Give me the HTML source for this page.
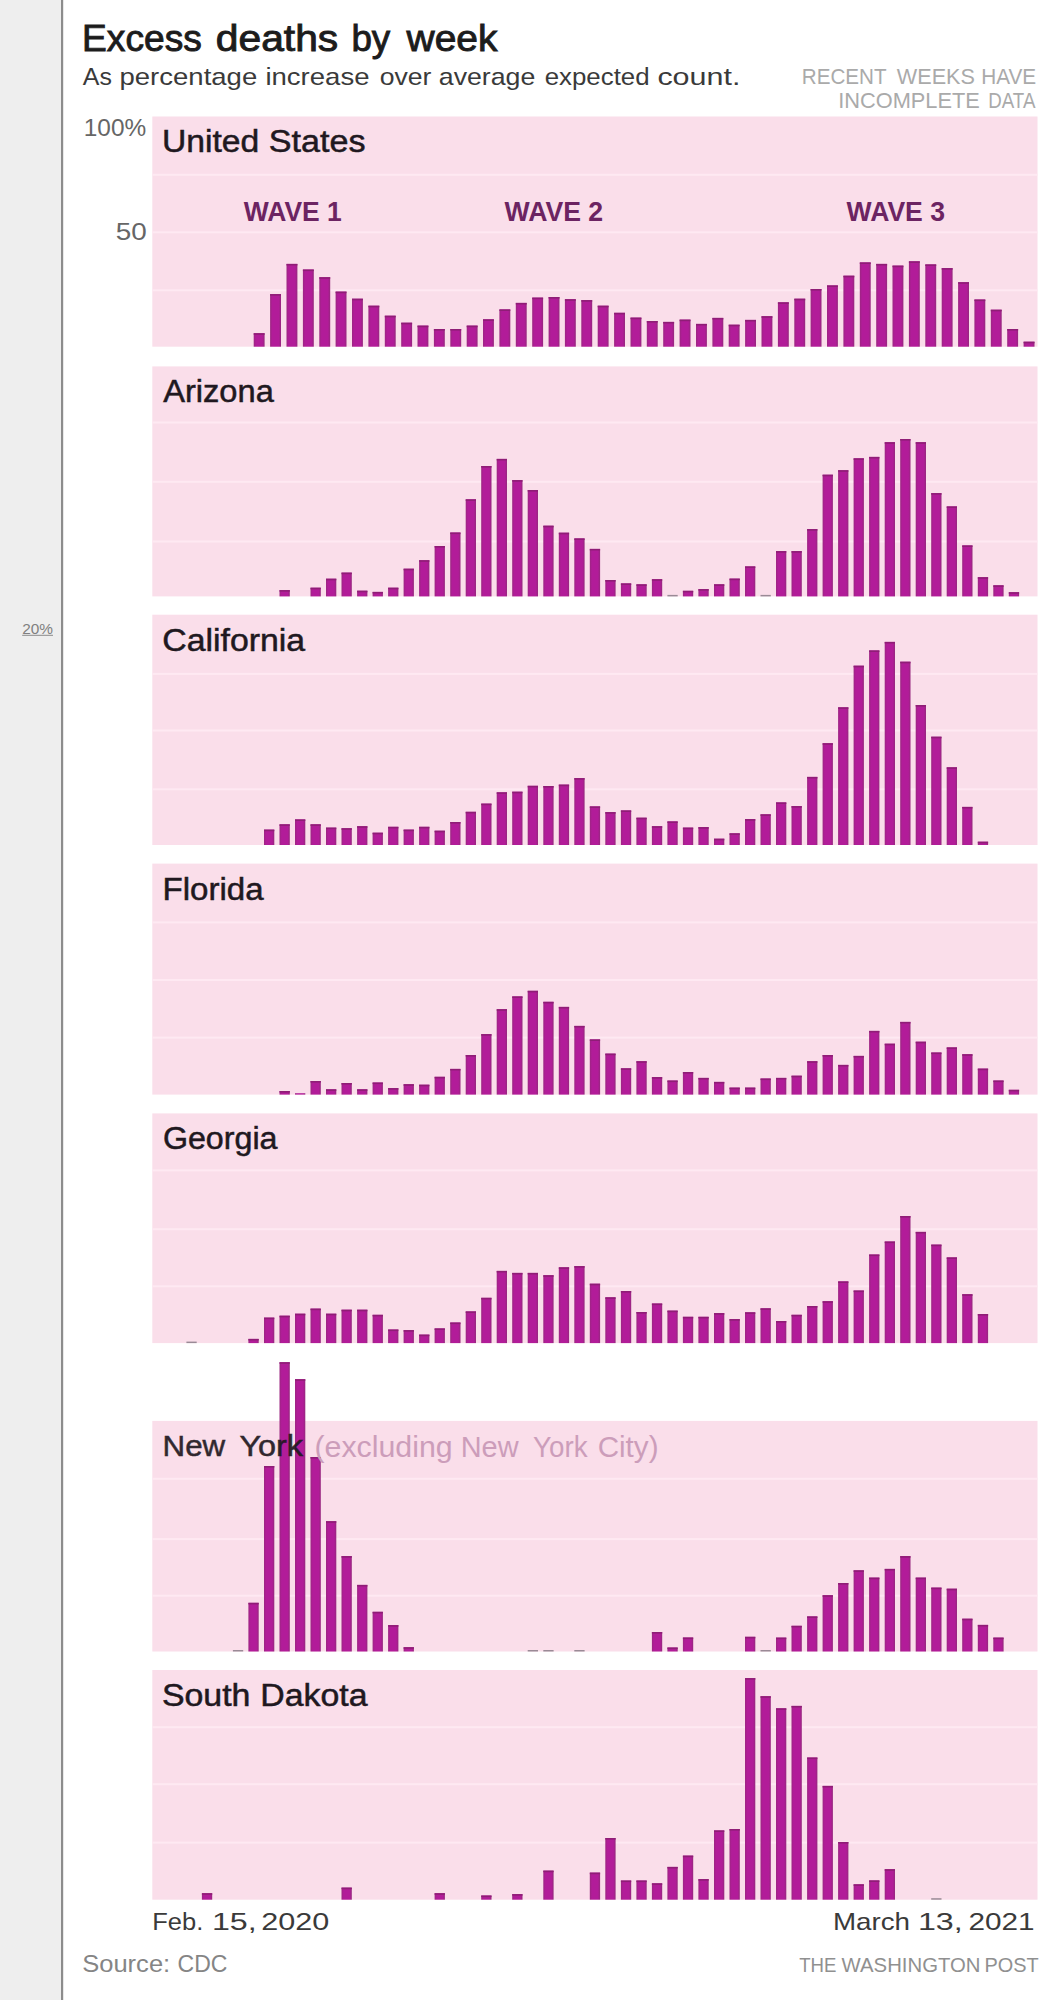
<!DOCTYPE html>
<html lang="en">
<head>
<meta charset="utf-8">
<title>Excess deaths by week</title>
<style>
html,body{margin:0;padding:0;background:#fff;}
body{width:1060px;height:2000px;overflow:hidden;}
svg{display:block;}
text{font-family:"Liberation Sans",Arial,sans-serif;}
</style>
</head>
<body>
<svg width="1060" height="2000" viewBox="0 0 1060 2000" font-family="'Liberation Sans', Arial, sans-serif">
<rect x="0" y="0" width="1060" height="2000" fill="#ffffff"/>
<rect x="0" y="0" width="61" height="2000" fill="#eeeeee"/>
<rect x="61" y="0" width="2.2" height="2000" fill="#8c8c8c"/>
<rect x="22.2" y="634.8" width="30.8" height="1" fill="#8a8a8a"/>
<g><rect x="152.3" y="116.5" width="885.2" height="230.2" fill="#fadeea"/><rect x="152.3" y="173.8" width="885.2" height="2" fill="#fee9f2"/><rect x="152.3" y="231.3" width="885.2" height="2" fill="#fee9f2"/><rect x="152.3" y="289.3" width="885.2" height="2" fill="#fee9f2"/><rect x="152.3" y="366.4" width="885.2" height="230" fill="#fadeea"/><rect x="152.3" y="421.5" width="885.2" height="2" fill="#fee9f2"/><rect x="152.3" y="480.8" width="885.2" height="2" fill="#fee9f2"/><rect x="152.3" y="540.5" width="885.2" height="2" fill="#fee9f2"/><rect x="152.3" y="614.7" width="885.2" height="230.3" fill="#fadeea"/><rect x="152.3" y="672.9" width="885.2" height="2" fill="#fee9f2"/><rect x="152.3" y="729.5" width="885.2" height="2" fill="#fee9f2"/><rect x="152.3" y="788.3" width="885.2" height="2" fill="#fee9f2"/><rect x="152.3" y="863.6" width="885.2" height="231" fill="#fadeea"/><rect x="152.3" y="921.4" width="885.2" height="2" fill="#fee9f2"/><rect x="152.3" y="979" width="885.2" height="2" fill="#fee9f2"/><rect x="152.3" y="1036.6" width="885.2" height="2" fill="#fee9f2"/><rect x="152.3" y="1113.4" width="885.2" height="229.7" fill="#fadeea"/><rect x="152.3" y="1169.4" width="885.2" height="2" fill="#fee9f2"/><rect x="152.3" y="1228.2" width="885.2" height="2" fill="#fee9f2"/><rect x="152.3" y="1285.3" width="885.2" height="2" fill="#fee9f2"/><rect x="152.3" y="1420.9" width="885.2" height="230.6" fill="#fadeea"/><rect x="152.3" y="1477.8" width="885.2" height="2" fill="#fee9f2"/><rect x="152.3" y="1538.1" width="885.2" height="2" fill="#fee9f2"/><rect x="152.3" y="1594.7" width="885.2" height="2" fill="#fee9f2"/><rect x="152.3" y="1670" width="885.2" height="229.7" fill="#fadeea"/><rect x="152.3" y="1726.2" width="885.2" height="2" fill="#fee9f2"/><rect x="152.3" y="1783.2" width="885.2" height="2" fill="#fee9f2"/><rect x="152.3" y="1841.6" width="885.2" height="2" fill="#fee9f2"/></g>
<g><text x="161.9" y="152.2" font-size="31" fill="#201820" stroke="#201820" stroke-width="0.5" textLength="97.3" lengthAdjust="spacingAndGlyphs">United</text><text x="268.8" y="152.2" font-size="31" fill="#201820" stroke="#201820" stroke-width="0.5" textLength="96.7" lengthAdjust="spacingAndGlyphs">States</text><text x="163.2" y="402.2" font-size="31" fill="#201820" stroke="#201820" stroke-width="0.5" textLength="110.6" lengthAdjust="spacingAndGlyphs">Arizona</text><text x="162.3" y="650.8" font-size="31" fill="#201820" stroke="#201820" stroke-width="0.5" textLength="142.8" lengthAdjust="spacingAndGlyphs">California</text><text x="162.5" y="899.7" font-size="31" fill="#201820" stroke="#201820" stroke-width="0.5" textLength="101.1" lengthAdjust="spacingAndGlyphs">Florida</text><text x="162.9" y="1148.5" font-size="31" fill="#201820" stroke="#201820" stroke-width="0.5" textLength="114.6" lengthAdjust="spacingAndGlyphs">Georgia</text><text x="161.9" y="1705.5" font-size="31" fill="#201820" stroke="#201820" stroke-width="0.5" textLength="88.5" lengthAdjust="spacingAndGlyphs">South</text><text x="260.3" y="1705.5" font-size="31" fill="#201820" stroke="#201820" stroke-width="0.5" textLength="107.2" lengthAdjust="spacingAndGlyphs">Dakota</text><text x="243.8" y="220.6" font-size="26.8" fill="#6c2462" font-weight="bold" textLength="98" lengthAdjust="spacingAndGlyphs">WAVE 1</text><text x="504.5" y="220.6" font-size="26.8" fill="#6c2462" font-weight="bold" textLength="98.7" lengthAdjust="spacingAndGlyphs">WAVE 2</text><text x="846.6" y="220.6" font-size="26.8" fill="#6c2462" font-weight="bold" textLength="98.4" lengthAdjust="spacingAndGlyphs">WAVE 3</text></g>
<defs><linearGradient id="bg" x1="0" y1="0" x2="1" y2="0"><stop offset="0" stop-color="#9c2682"/><stop offset="0.22" stop-color="#b21c99"/><stop offset="0.78" stop-color="#b21c99"/><stop offset="1" stop-color="#96287e"/></linearGradient></defs>
<g fill="url(#bg)"><rect x="253.7" y="333.2" width="10.9" height="13.5"/><rect x="253.7" y="333.2" width="10.9" height="1.6" fill="#8f1d76"/><rect x="270.1" y="294.1" width="10.9" height="52.6"/><rect x="270.1" y="294.1" width="10.9" height="1.6" fill="#8f1d76"/><rect x="286.5" y="263.9" width="10.9" height="82.8"/><rect x="286.5" y="263.9" width="10.9" height="1.6" fill="#8f1d76"/><rect x="302.9" y="269.5" width="10.9" height="77.2"/><rect x="302.9" y="269.5" width="10.9" height="1.6" fill="#8f1d76"/><rect x="319.3" y="277.2" width="10.9" height="69.5"/><rect x="319.3" y="277.2" width="10.9" height="1.6" fill="#8f1d76"/><rect x="335.6" y="291.6" width="10.9" height="55.1"/><rect x="335.6" y="291.6" width="10.9" height="1.6" fill="#8f1d76"/><rect x="352" y="298.7" width="10.9" height="48"/><rect x="352" y="298.7" width="10.9" height="1.6" fill="#8f1d76"/><rect x="368.4" y="305.7" width="10.9" height="41"/><rect x="368.4" y="305.7" width="10.9" height="1.6" fill="#8f1d76"/><rect x="384.8" y="315.7" width="10.9" height="31"/><rect x="384.8" y="315.7" width="10.9" height="1.6" fill="#8f1d76"/><rect x="401.2" y="322.7" width="10.9" height="24"/><rect x="401.2" y="322.7" width="10.9" height="1.6" fill="#8f1d76"/><rect x="417.5" y="325.6" width="10.9" height="21.1"/><rect x="417.5" y="325.6" width="10.9" height="1.6" fill="#8f1d76"/><rect x="433.9" y="329" width="10.9" height="17.7"/><rect x="433.9" y="329" width="10.9" height="1.6" fill="#8f1d76"/><rect x="450.3" y="329" width="10.9" height="17.7"/><rect x="450.3" y="329" width="10.9" height="1.6" fill="#8f1d76"/><rect x="466.7" y="325.6" width="10.9" height="21.1"/><rect x="466.7" y="325.6" width="10.9" height="1.6" fill="#8f1d76"/><rect x="483" y="319.3" width="10.9" height="27.4"/><rect x="483" y="319.3" width="10.9" height="1.6" fill="#8f1d76"/><rect x="499.4" y="309.4" width="10.9" height="37.3"/><rect x="499.4" y="309.4" width="10.9" height="1.6" fill="#8f1d76"/><rect x="515.8" y="302.9" width="10.9" height="43.8"/><rect x="515.8" y="302.9" width="10.9" height="1.6" fill="#8f1d76"/><rect x="532.2" y="297.6" width="10.9" height="49.1"/><rect x="532.2" y="297.6" width="10.9" height="1.6" fill="#8f1d76"/><rect x="548.6" y="297" width="10.9" height="49.7"/><rect x="548.6" y="297" width="10.9" height="1.6" fill="#8f1d76"/><rect x="564.9" y="299.2" width="10.9" height="47.5"/><rect x="564.9" y="299.2" width="10.9" height="1.6" fill="#8f1d76"/><rect x="581.3" y="300.1" width="10.9" height="46.6"/><rect x="581.3" y="300.1" width="10.9" height="1.6" fill="#8f1d76"/><rect x="597.7" y="305.7" width="10.9" height="41"/><rect x="597.7" y="305.7" width="10.9" height="1.6" fill="#8f1d76"/><rect x="614.1" y="312.8" width="10.9" height="33.9"/><rect x="614.1" y="312.8" width="10.9" height="1.6" fill="#8f1d76"/><rect x="630.5" y="317.6" width="10.9" height="29.1"/><rect x="630.5" y="317.6" width="10.9" height="1.6" fill="#8f1d76"/><rect x="646.8" y="321" width="10.9" height="25.7"/><rect x="646.8" y="321" width="10.9" height="1.6" fill="#8f1d76"/><rect x="663.2" y="321.9" width="10.9" height="24.8"/><rect x="663.2" y="321.9" width="10.9" height="1.6" fill="#8f1d76"/><rect x="679.6" y="319.6" width="10.9" height="27.1"/><rect x="679.6" y="319.6" width="10.9" height="1.6" fill="#8f1d76"/><rect x="696" y="323.9" width="10.9" height="22.8"/><rect x="696" y="323.9" width="10.9" height="1.6" fill="#8f1d76"/><rect x="712.4" y="317.9" width="10.9" height="28.8"/><rect x="712.4" y="317.9" width="10.9" height="1.6" fill="#8f1d76"/><rect x="728.7" y="324.7" width="10.9" height="22"/><rect x="728.7" y="324.7" width="10.9" height="1.6" fill="#8f1d76"/><rect x="745.1" y="319.9" width="10.9" height="26.8"/><rect x="745.1" y="319.9" width="10.9" height="1.6" fill="#8f1d76"/><rect x="761.5" y="316.2" width="10.9" height="30.5"/><rect x="761.5" y="316.2" width="10.9" height="1.6" fill="#8f1d76"/><rect x="777.9" y="302.3" width="10.9" height="44.4"/><rect x="777.9" y="302.3" width="10.9" height="1.6" fill="#8f1d76"/><rect x="794.3" y="298.7" width="10.9" height="48"/><rect x="794.3" y="298.7" width="10.9" height="1.6" fill="#8f1d76"/><rect x="810.6" y="289" width="10.9" height="57.7"/><rect x="810.6" y="289" width="10.9" height="1.6" fill="#8f1d76"/><rect x="827" y="285.4" width="10.9" height="61.3"/><rect x="827" y="285.4" width="10.9" height="1.6" fill="#8f1d76"/><rect x="843.4" y="275.7" width="10.9" height="71"/><rect x="843.4" y="275.7" width="10.9" height="1.6" fill="#8f1d76"/><rect x="859.8" y="262.4" width="10.9" height="84.3"/><rect x="859.8" y="262.4" width="10.9" height="1.6" fill="#8f1d76"/><rect x="876.2" y="263.9" width="10.9" height="82.8"/><rect x="876.2" y="263.9" width="10.9" height="1.6" fill="#8f1d76"/><rect x="892.5" y="265.6" width="10.9" height="81.1"/><rect x="892.5" y="265.6" width="10.9" height="1.6" fill="#8f1d76"/><rect x="908.9" y="261.3" width="10.9" height="85.4"/><rect x="908.9" y="261.3" width="10.9" height="1.6" fill="#8f1d76"/><rect x="925.3" y="264.4" width="10.9" height="82.3"/><rect x="925.3" y="264.4" width="10.9" height="1.6" fill="#8f1d76"/><rect x="941.7" y="268.1" width="10.9" height="78.6"/><rect x="941.7" y="268.1" width="10.9" height="1.6" fill="#8f1d76"/><rect x="958.1" y="282.2" width="10.9" height="64.5"/><rect x="958.1" y="282.2" width="10.9" height="1.6" fill="#8f1d76"/><rect x="974.4" y="299.5" width="10.9" height="47.2"/><rect x="974.4" y="299.5" width="10.9" height="1.6" fill="#8f1d76"/><rect x="990.8" y="309.7" width="10.9" height="37"/><rect x="990.8" y="309.7" width="10.9" height="1.6" fill="#8f1d76"/><rect x="1007.2" y="329" width="10.9" height="17.7"/><rect x="1007.2" y="329" width="10.9" height="1.6" fill="#8f1d76"/><rect x="1023.6" y="341.7" width="10.9" height="5"/><rect x="1023.6" y="341.7" width="10.9" height="1.6" fill="#8f1d76"/><rect x="279.5" y="590.1" width="10.3" height="6.3"/><rect x="279.5" y="590.1" width="10.3" height="1.6" fill="#8f1d76"/><rect x="310.5" y="587.7" width="10.3" height="8.7"/><rect x="310.5" y="587.7" width="10.3" height="1.6" fill="#8f1d76"/><rect x="326" y="578.7" width="10.3" height="17.7"/><rect x="326" y="578.7" width="10.3" height="1.6" fill="#8f1d76"/><rect x="341.5" y="572.6" width="10.3" height="23.8"/><rect x="341.5" y="572.6" width="10.3" height="1.6" fill="#8f1d76"/><rect x="357.1" y="590.7" width="10.3" height="5.7"/><rect x="357.1" y="590.7" width="10.3" height="1.6" fill="#8f1d76"/><rect x="372.6" y="591.9" width="10.3" height="4.5"/><rect x="372.6" y="591.9" width="10.3" height="1.6" fill="#8f1d76"/><rect x="388.1" y="587.7" width="10.3" height="8.7"/><rect x="388.1" y="587.7" width="10.3" height="1.6" fill="#8f1d76"/><rect x="403.6" y="568.7" width="10.3" height="27.7"/><rect x="403.6" y="568.7" width="10.3" height="1.6" fill="#8f1d76"/><rect x="419.1" y="560.2" width="10.3" height="36.2"/><rect x="419.1" y="560.2" width="10.3" height="1.6" fill="#8f1d76"/><rect x="434.6" y="546" width="10.3" height="50.4"/><rect x="434.6" y="546" width="10.3" height="1.6" fill="#8f1d76"/><rect x="450.2" y="532.5" width="10.3" height="63.9"/><rect x="450.2" y="532.5" width="10.3" height="1.6" fill="#8f1d76"/><rect x="465.7" y="499.3" width="10.3" height="97.1"/><rect x="465.7" y="499.3" width="10.3" height="1.6" fill="#8f1d76"/><rect x="481.2" y="466" width="10.3" height="130.4"/><rect x="481.2" y="466" width="10.3" height="1.6" fill="#8f1d76"/><rect x="496.7" y="458.9" width="10.3" height="137.5"/><rect x="496.7" y="458.9" width="10.3" height="1.6" fill="#8f1d76"/><rect x="512.2" y="480.1" width="10.3" height="116.3"/><rect x="512.2" y="480.1" width="10.3" height="1.6" fill="#8f1d76"/><rect x="527.7" y="490" width="10.3" height="106.4"/><rect x="527.7" y="490" width="10.3" height="1.6" fill="#8f1d76"/><rect x="543.3" y="525.7" width="10.3" height="70.7"/><rect x="543.3" y="525.7" width="10.3" height="1.6" fill="#8f1d76"/><rect x="558.8" y="532.7" width="10.3" height="63.7"/><rect x="558.8" y="532.7" width="10.3" height="1.6" fill="#8f1d76"/><rect x="574.3" y="538.4" width="10.3" height="58"/><rect x="574.3" y="538.4" width="10.3" height="1.6" fill="#8f1d76"/><rect x="589.8" y="548.9" width="10.3" height="47.5"/><rect x="589.8" y="548.9" width="10.3" height="1.6" fill="#8f1d76"/><rect x="605.3" y="580" width="10.3" height="16.4"/><rect x="605.3" y="580" width="10.3" height="1.6" fill="#8f1d76"/><rect x="620.9" y="583.4" width="10.3" height="13"/><rect x="620.9" y="583.4" width="10.3" height="1.6" fill="#8f1d76"/><rect x="636.4" y="584.3" width="10.3" height="12.1"/><rect x="636.4" y="584.3" width="10.3" height="1.6" fill="#8f1d76"/><rect x="651.9" y="579.2" width="10.3" height="17.2"/><rect x="651.9" y="579.2" width="10.3" height="1.6" fill="#8f1d76"/><rect x="667.4" y="594.9" width="10.3" height="1.5" fill="#9a8a96"/><rect x="682.9" y="590.8" width="10.3" height="5.6"/><rect x="682.9" y="590.8" width="10.3" height="1.6" fill="#8f1d76"/><rect x="698.4" y="589.1" width="10.3" height="7.3"/><rect x="698.4" y="589.1" width="10.3" height="1.6" fill="#8f1d76"/><rect x="714" y="584.3" width="10.3" height="12.1"/><rect x="714" y="584.3" width="10.3" height="1.6" fill="#8f1d76"/><rect x="729.5" y="578.6" width="10.3" height="17.8"/><rect x="729.5" y="578.6" width="10.3" height="1.6" fill="#8f1d76"/><rect x="745" y="566.4" width="10.3" height="30"/><rect x="745" y="566.4" width="10.3" height="1.6" fill="#8f1d76"/><rect x="760.5" y="594.9" width="10.3" height="1.5" fill="#9a8a96"/><rect x="776" y="551.1" width="10.3" height="45.3"/><rect x="776" y="551.1" width="10.3" height="1.6" fill="#8f1d76"/><rect x="791.5" y="551.1" width="10.3" height="45.3"/><rect x="791.5" y="551.1" width="10.3" height="1.6" fill="#8f1d76"/><rect x="807.1" y="529.1" width="10.3" height="67.3"/><rect x="807.1" y="529.1" width="10.3" height="1.6" fill="#8f1d76"/><rect x="822.6" y="474.7" width="10.3" height="121.7"/><rect x="822.6" y="474.7" width="10.3" height="1.6" fill="#8f1d76"/><rect x="838.1" y="470.2" width="10.3" height="126.2"/><rect x="838.1" y="470.2" width="10.3" height="1.6" fill="#8f1d76"/><rect x="853.6" y="458.3" width="10.3" height="138.1"/><rect x="853.6" y="458.3" width="10.3" height="1.6" fill="#8f1d76"/><rect x="869.1" y="456.9" width="10.3" height="139.5"/><rect x="869.1" y="456.9" width="10.3" height="1.6" fill="#8f1d76"/><rect x="884.7" y="442.2" width="10.3" height="154.2"/><rect x="884.7" y="442.2" width="10.3" height="1.6" fill="#8f1d76"/><rect x="900.2" y="439" width="10.3" height="157.4"/><rect x="900.2" y="439" width="10.3" height="1.6" fill="#8f1d76"/><rect x="915.7" y="442.2" width="10.3" height="154.2"/><rect x="915.7" y="442.2" width="10.3" height="1.6" fill="#8f1d76"/><rect x="931.2" y="493.1" width="10.3" height="103.3"/><rect x="931.2" y="493.1" width="10.3" height="1.6" fill="#8f1d76"/><rect x="946.7" y="506.4" width="10.3" height="90"/><rect x="946.7" y="506.4" width="10.3" height="1.6" fill="#8f1d76"/><rect x="962.2" y="545.4" width="10.3" height="51"/><rect x="962.2" y="545.4" width="10.3" height="1.6" fill="#8f1d76"/><rect x="977.8" y="577.2" width="10.3" height="19.2"/><rect x="977.8" y="577.2" width="10.3" height="1.6" fill="#8f1d76"/><rect x="993.3" y="585.3" width="10.3" height="11.1"/><rect x="993.3" y="585.3" width="10.3" height="1.6" fill="#8f1d76"/><rect x="1008.8" y="592.2" width="10.3" height="4.2"/><rect x="1008.8" y="592.2" width="10.3" height="1.6" fill="#8f1d76"/><rect x="264" y="829.6" width="10.3" height="15.4"/><rect x="264" y="829.6" width="10.3" height="1.6" fill="#8f1d76"/><rect x="279.5" y="824.3" width="10.3" height="20.7"/><rect x="279.5" y="824.3" width="10.3" height="1.6" fill="#8f1d76"/><rect x="295" y="819.4" width="10.3" height="25.6"/><rect x="295" y="819.4" width="10.3" height="1.6" fill="#8f1d76"/><rect x="310.5" y="824.3" width="10.3" height="20.7"/><rect x="310.5" y="824.3" width="10.3" height="1.6" fill="#8f1d76"/><rect x="326" y="827.6" width="10.3" height="17.4"/><rect x="326" y="827.6" width="10.3" height="1.6" fill="#8f1d76"/><rect x="341.5" y="828.2" width="10.3" height="16.8"/><rect x="341.5" y="828.2" width="10.3" height="1.6" fill="#8f1d76"/><rect x="357.1" y="826.2" width="10.3" height="18.8"/><rect x="357.1" y="826.2" width="10.3" height="1.6" fill="#8f1d76"/><rect x="372.6" y="832.7" width="10.3" height="12.3"/><rect x="372.6" y="832.7" width="10.3" height="1.6" fill="#8f1d76"/><rect x="388.1" y="826.8" width="10.3" height="18.2"/><rect x="388.1" y="826.8" width="10.3" height="1.6" fill="#8f1d76"/><rect x="403.6" y="829.6" width="10.3" height="15.4"/><rect x="403.6" y="829.6" width="10.3" height="1.6" fill="#8f1d76"/><rect x="419.1" y="826.8" width="10.3" height="18.2"/><rect x="419.1" y="826.8" width="10.3" height="1.6" fill="#8f1d76"/><rect x="434.6" y="830.7" width="10.3" height="14.3"/><rect x="434.6" y="830.7" width="10.3" height="1.6" fill="#8f1d76"/><rect x="450.2" y="822" width="10.3" height="23"/><rect x="450.2" y="822" width="10.3" height="1.6" fill="#8f1d76"/><rect x="465.7" y="811.8" width="10.3" height="33.2"/><rect x="465.7" y="811.8" width="10.3" height="1.6" fill="#8f1d76"/><rect x="481.2" y="803.6" width="10.3" height="41.4"/><rect x="481.2" y="803.6" width="10.3" height="1.6" fill="#8f1d76"/><rect x="496.7" y="792.3" width="10.3" height="52.7"/><rect x="496.7" y="792.3" width="10.3" height="1.6" fill="#8f1d76"/><rect x="512.2" y="791.7" width="10.3" height="53.3"/><rect x="512.2" y="791.7" width="10.3" height="1.6" fill="#8f1d76"/><rect x="527.7" y="785.8" width="10.3" height="59.2"/><rect x="527.7" y="785.8" width="10.3" height="1.6" fill="#8f1d76"/><rect x="543.3" y="786" width="10.3" height="59"/><rect x="543.3" y="786" width="10.3" height="1.6" fill="#8f1d76"/><rect x="558.8" y="784.6" width="10.3" height="60.4"/><rect x="558.8" y="784.6" width="10.3" height="1.6" fill="#8f1d76"/><rect x="574.3" y="778.1" width="10.3" height="66.9"/><rect x="574.3" y="778.1" width="10.3" height="1.6" fill="#8f1d76"/><rect x="589.8" y="806.4" width="10.3" height="38.6"/><rect x="589.8" y="806.4" width="10.3" height="1.6" fill="#8f1d76"/><rect x="605.3" y="812.1" width="10.3" height="32.9"/><rect x="605.3" y="812.1" width="10.3" height="1.6" fill="#8f1d76"/><rect x="620.9" y="810.4" width="10.3" height="34.6"/><rect x="620.9" y="810.4" width="10.3" height="1.6" fill="#8f1d76"/><rect x="636.4" y="817.7" width="10.3" height="27.3"/><rect x="636.4" y="817.7" width="10.3" height="1.6" fill="#8f1d76"/><rect x="651.9" y="826.2" width="10.3" height="18.8"/><rect x="651.9" y="826.2" width="10.3" height="1.6" fill="#8f1d76"/><rect x="667.4" y="821.4" width="10.3" height="23.6"/><rect x="667.4" y="821.4" width="10.3" height="1.6" fill="#8f1d76"/><rect x="682.9" y="827.6" width="10.3" height="17.4"/><rect x="682.9" y="827.6" width="10.3" height="1.6" fill="#8f1d76"/><rect x="698.4" y="827.1" width="10.3" height="17.9"/><rect x="698.4" y="827.1" width="10.3" height="1.6" fill="#8f1d76"/><rect x="714" y="838.7" width="10.3" height="6.3"/><rect x="714" y="838.7" width="10.3" height="1.6" fill="#8f1d76"/><rect x="729.5" y="833.3" width="10.3" height="11.7"/><rect x="729.5" y="833.3" width="10.3" height="1.6" fill="#8f1d76"/><rect x="745" y="819.1" width="10.3" height="25.9"/><rect x="745" y="819.1" width="10.3" height="1.6" fill="#8f1d76"/><rect x="760.5" y="814.3" width="10.3" height="30.7"/><rect x="760.5" y="814.3" width="10.3" height="1.6" fill="#8f1d76"/><rect x="776" y="802.4" width="10.3" height="42.6"/><rect x="776" y="802.4" width="10.3" height="1.6" fill="#8f1d76"/><rect x="791.5" y="806.1" width="10.3" height="38.9"/><rect x="791.5" y="806.1" width="10.3" height="1.6" fill="#8f1d76"/><rect x="807.1" y="776.9" width="10.3" height="68.1"/><rect x="807.1" y="776.9" width="10.3" height="1.6" fill="#8f1d76"/><rect x="822.6" y="743.2" width="10.3" height="101.8"/><rect x="822.6" y="743.2" width="10.3" height="1.6" fill="#8f1d76"/><rect x="838.1" y="707.3" width="10.3" height="137.7"/><rect x="838.1" y="707.3" width="10.3" height="1.6" fill="#8f1d76"/><rect x="853.6" y="665.7" width="10.3" height="179.3"/><rect x="853.6" y="665.7" width="10.3" height="1.6" fill="#8f1d76"/><rect x="869.1" y="650.4" width="10.3" height="194.6"/><rect x="869.1" y="650.4" width="10.3" height="1.6" fill="#8f1d76"/><rect x="884.7" y="641.9" width="10.3" height="203.1"/><rect x="884.7" y="641.9" width="10.3" height="1.6" fill="#8f1d76"/><rect x="900.2" y="661.7" width="10.3" height="183.3"/><rect x="900.2" y="661.7" width="10.3" height="1.6" fill="#8f1d76"/><rect x="915.7" y="705" width="10.3" height="140"/><rect x="915.7" y="705" width="10.3" height="1.6" fill="#8f1d76"/><rect x="931.2" y="736.7" width="10.3" height="108.3"/><rect x="931.2" y="736.7" width="10.3" height="1.6" fill="#8f1d76"/><rect x="946.7" y="767.3" width="10.3" height="77.7"/><rect x="946.7" y="767.3" width="10.3" height="1.6" fill="#8f1d76"/><rect x="962.2" y="806.9" width="10.3" height="38.1"/><rect x="962.2" y="806.9" width="10.3" height="1.6" fill="#8f1d76"/><rect x="977.8" y="841.7" width="10.3" height="3.3"/><rect x="977.8" y="841.7" width="10.3" height="1.6" fill="#8f1d76"/><rect x="279.5" y="1091" width="10.3" height="3.6"/><rect x="279.5" y="1091" width="10.3" height="1.6" fill="#8f1d76"/><rect x="295" y="1093.2" width="10.3" height="1.4"/><rect x="310.5" y="1081" width="10.3" height="13.6"/><rect x="310.5" y="1081" width="10.3" height="1.6" fill="#8f1d76"/><rect x="326" y="1089.3" width="10.3" height="5.3"/><rect x="326" y="1089.3" width="10.3" height="1.6" fill="#8f1d76"/><rect x="341.5" y="1083" width="10.3" height="11.6"/><rect x="341.5" y="1083" width="10.3" height="1.6" fill="#8f1d76"/><rect x="357.1" y="1089.3" width="10.3" height="5.3"/><rect x="357.1" y="1089.3" width="10.3" height="1.6" fill="#8f1d76"/><rect x="372.6" y="1082.5" width="10.3" height="12.1"/><rect x="372.6" y="1082.5" width="10.3" height="1.6" fill="#8f1d76"/><rect x="388.1" y="1088.1" width="10.3" height="6.5"/><rect x="388.1" y="1088.1" width="10.3" height="1.6" fill="#8f1d76"/><rect x="403.6" y="1084.2" width="10.3" height="10.4"/><rect x="403.6" y="1084.2" width="10.3" height="1.6" fill="#8f1d76"/><rect x="419.1" y="1084.7" width="10.3" height="9.9"/><rect x="419.1" y="1084.7" width="10.3" height="1.6" fill="#8f1d76"/><rect x="434.6" y="1076.8" width="10.3" height="17.8"/><rect x="434.6" y="1076.8" width="10.3" height="1.6" fill="#8f1d76"/><rect x="450.2" y="1068.9" width="10.3" height="25.7"/><rect x="450.2" y="1068.9" width="10.3" height="1.6" fill="#8f1d76"/><rect x="465.7" y="1055" width="10.3" height="39.6"/><rect x="465.7" y="1055" width="10.3" height="1.6" fill="#8f1d76"/><rect x="481.2" y="1034.1" width="10.3" height="60.5"/><rect x="481.2" y="1034.1" width="10.3" height="1.6" fill="#8f1d76"/><rect x="496.7" y="1009.2" width="10.3" height="85.4"/><rect x="496.7" y="1009.2" width="10.3" height="1.6" fill="#8f1d76"/><rect x="512.2" y="996.4" width="10.3" height="98.2"/><rect x="512.2" y="996.4" width="10.3" height="1.6" fill="#8f1d76"/><rect x="527.7" y="990.8" width="10.3" height="103.8"/><rect x="527.7" y="990.8" width="10.3" height="1.6" fill="#8f1d76"/><rect x="543.3" y="1001.8" width="10.3" height="92.8"/><rect x="543.3" y="1001.8" width="10.3" height="1.6" fill="#8f1d76"/><rect x="558.8" y="1006.9" width="10.3" height="87.7"/><rect x="558.8" y="1006.9" width="10.3" height="1.6" fill="#8f1d76"/><rect x="574.3" y="1025.9" width="10.3" height="68.7"/><rect x="574.3" y="1025.9" width="10.3" height="1.6" fill="#8f1d76"/><rect x="589.8" y="1039.4" width="10.3" height="55.2"/><rect x="589.8" y="1039.4" width="10.3" height="1.6" fill="#8f1d76"/><rect x="605.3" y="1053.6" width="10.3" height="41"/><rect x="605.3" y="1053.6" width="10.3" height="1.6" fill="#8f1d76"/><rect x="620.9" y="1068.3" width="10.3" height="26.3"/><rect x="620.9" y="1068.3" width="10.3" height="1.6" fill="#8f1d76"/><rect x="636.4" y="1061.2" width="10.3" height="33.4"/><rect x="636.4" y="1061.2" width="10.3" height="1.6" fill="#8f1d76"/><rect x="651.9" y="1077.1" width="10.3" height="17.5"/><rect x="651.9" y="1077.1" width="10.3" height="1.6" fill="#8f1d76"/><rect x="667.4" y="1080.5" width="10.3" height="14.1"/><rect x="667.4" y="1080.5" width="10.3" height="1.6" fill="#8f1d76"/><rect x="682.9" y="1072" width="10.3" height="22.6"/><rect x="682.9" y="1072" width="10.3" height="1.6" fill="#8f1d76"/><rect x="698.4" y="1077.9" width="10.3" height="16.7"/><rect x="698.4" y="1077.9" width="10.3" height="1.6" fill="#8f1d76"/><rect x="714" y="1081.9" width="10.3" height="12.7"/><rect x="714" y="1081.9" width="10.3" height="1.6" fill="#8f1d76"/><rect x="729.5" y="1087.6" width="10.3" height="7"/><rect x="729.5" y="1087.6" width="10.3" height="1.6" fill="#8f1d76"/><rect x="745" y="1087.6" width="10.3" height="7"/><rect x="745" y="1087.6" width="10.3" height="1.6" fill="#8f1d76"/><rect x="760.5" y="1078.5" width="10.3" height="16.1"/><rect x="760.5" y="1078.5" width="10.3" height="1.6" fill="#8f1d76"/><rect x="776" y="1077.9" width="10.3" height="16.7"/><rect x="776" y="1077.9" width="10.3" height="1.6" fill="#8f1d76"/><rect x="791.5" y="1075.7" width="10.3" height="18.9"/><rect x="791.5" y="1075.7" width="10.3" height="1.6" fill="#8f1d76"/><rect x="807.1" y="1061.2" width="10.3" height="33.4"/><rect x="807.1" y="1061.2" width="10.3" height="1.6" fill="#8f1d76"/><rect x="822.6" y="1055" width="10.3" height="39.6"/><rect x="822.6" y="1055" width="10.3" height="1.6" fill="#8f1d76"/><rect x="838.1" y="1064.9" width="10.3" height="29.7"/><rect x="838.1" y="1064.9" width="10.3" height="1.6" fill="#8f1d76"/><rect x="853.6" y="1055.9" width="10.3" height="38.7"/><rect x="853.6" y="1055.9" width="10.3" height="1.6" fill="#8f1d76"/><rect x="869.1" y="1030.9" width="10.3" height="63.7"/><rect x="869.1" y="1030.9" width="10.3" height="1.6" fill="#8f1d76"/><rect x="884.7" y="1043.7" width="10.3" height="50.9"/><rect x="884.7" y="1043.7" width="10.3" height="1.6" fill="#8f1d76"/><rect x="900.2" y="1021.9" width="10.3" height="72.7"/><rect x="900.2" y="1021.9" width="10.3" height="1.6" fill="#8f1d76"/><rect x="915.7" y="1041.7" width="10.3" height="52.9"/><rect x="915.7" y="1041.7" width="10.3" height="1.6" fill="#8f1d76"/><rect x="931.2" y="1052.5" width="10.3" height="42.1"/><rect x="931.2" y="1052.5" width="10.3" height="1.6" fill="#8f1d76"/><rect x="946.7" y="1047.4" width="10.3" height="47.2"/><rect x="946.7" y="1047.4" width="10.3" height="1.6" fill="#8f1d76"/><rect x="962.2" y="1054.2" width="10.3" height="40.4"/><rect x="962.2" y="1054.2" width="10.3" height="1.6" fill="#8f1d76"/><rect x="977.8" y="1068.6" width="10.3" height="26"/><rect x="977.8" y="1068.6" width="10.3" height="1.6" fill="#8f1d76"/><rect x="993.3" y="1080.5" width="10.3" height="14.1"/><rect x="993.3" y="1080.5" width="10.3" height="1.6" fill="#8f1d76"/><rect x="1008.8" y="1089.8" width="10.3" height="4.8"/><rect x="1008.8" y="1089.8" width="10.3" height="1.6" fill="#8f1d76"/><rect x="186.4" y="1341.6" width="10.3" height="1.5" fill="#9a8a96"/><rect x="248.4" y="1338.9" width="10.3" height="4.2"/><rect x="248.4" y="1338.9" width="10.3" height="1.6" fill="#8f1d76"/><rect x="264" y="1317.6" width="10.3" height="25.5"/><rect x="264" y="1317.6" width="10.3" height="1.6" fill="#8f1d76"/><rect x="279.5" y="1315.7" width="10.3" height="27.4"/><rect x="279.5" y="1315.7" width="10.3" height="1.6" fill="#8f1d76"/><rect x="295" y="1313.7" width="10.3" height="29.4"/><rect x="295" y="1313.7" width="10.3" height="1.6" fill="#8f1d76"/><rect x="310.5" y="1308.6" width="10.3" height="34.5"/><rect x="310.5" y="1308.6" width="10.3" height="1.6" fill="#8f1d76"/><rect x="326" y="1313.7" width="10.3" height="29.4"/><rect x="326" y="1313.7" width="10.3" height="1.6" fill="#8f1d76"/><rect x="341.5" y="1309.7" width="10.3" height="33.4"/><rect x="341.5" y="1309.7" width="10.3" height="1.6" fill="#8f1d76"/><rect x="357.1" y="1309.7" width="10.3" height="33.4"/><rect x="357.1" y="1309.7" width="10.3" height="1.6" fill="#8f1d76"/><rect x="372.6" y="1314.8" width="10.3" height="28.3"/><rect x="372.6" y="1314.8" width="10.3" height="1.6" fill="#8f1d76"/><rect x="388.1" y="1329.5" width="10.3" height="13.6"/><rect x="388.1" y="1329.5" width="10.3" height="1.6" fill="#8f1d76"/><rect x="403.6" y="1330.1" width="10.3" height="13"/><rect x="403.6" y="1330.1" width="10.3" height="1.6" fill="#8f1d76"/><rect x="419.1" y="1334.6" width="10.3" height="8.5"/><rect x="419.1" y="1334.6" width="10.3" height="1.6" fill="#8f1d76"/><rect x="434.6" y="1328.4" width="10.3" height="14.7"/><rect x="434.6" y="1328.4" width="10.3" height="1.6" fill="#8f1d76"/><rect x="450.2" y="1322.5" width="10.3" height="20.6"/><rect x="450.2" y="1322.5" width="10.3" height="1.6" fill="#8f1d76"/><rect x="465.7" y="1311.4" width="10.3" height="31.7"/><rect x="465.7" y="1311.4" width="10.3" height="1.6" fill="#8f1d76"/><rect x="481.2" y="1297.8" width="10.3" height="45.3"/><rect x="481.2" y="1297.8" width="10.3" height="1.6" fill="#8f1d76"/><rect x="496.7" y="1270.9" width="10.3" height="72.2"/><rect x="496.7" y="1270.9" width="10.3" height="1.6" fill="#8f1d76"/><rect x="512.2" y="1272.9" width="10.3" height="70.2"/><rect x="512.2" y="1272.9" width="10.3" height="1.6" fill="#8f1d76"/><rect x="527.7" y="1272.9" width="10.3" height="70.2"/><rect x="527.7" y="1272.9" width="10.3" height="1.6" fill="#8f1d76"/><rect x="543.3" y="1275.2" width="10.3" height="67.9"/><rect x="543.3" y="1275.2" width="10.3" height="1.6" fill="#8f1d76"/><rect x="558.8" y="1267.3" width="10.3" height="75.8"/><rect x="558.8" y="1267.3" width="10.3" height="1.6" fill="#8f1d76"/><rect x="574.3" y="1266.1" width="10.3" height="77"/><rect x="574.3" y="1266.1" width="10.3" height="1.6" fill="#8f1d76"/><rect x="589.8" y="1283.7" width="10.3" height="59.4"/><rect x="589.8" y="1283.7" width="10.3" height="1.6" fill="#8f1d76"/><rect x="605.3" y="1297.3" width="10.3" height="45.8"/><rect x="605.3" y="1297.3" width="10.3" height="1.6" fill="#8f1d76"/><rect x="620.9" y="1291" width="10.3" height="52.1"/><rect x="620.9" y="1291" width="10.3" height="1.6" fill="#8f1d76"/><rect x="636.4" y="1312" width="10.3" height="31.1"/><rect x="636.4" y="1312" width="10.3" height="1.6" fill="#8f1d76"/><rect x="651.9" y="1303.5" width="10.3" height="39.6"/><rect x="651.9" y="1303.5" width="10.3" height="1.6" fill="#8f1d76"/><rect x="667.4" y="1310.6" width="10.3" height="32.5"/><rect x="667.4" y="1310.6" width="10.3" height="1.6" fill="#8f1d76"/><rect x="682.9" y="1316.8" width="10.3" height="26.3"/><rect x="682.9" y="1316.8" width="10.3" height="1.6" fill="#8f1d76"/><rect x="698.4" y="1316.8" width="10.3" height="26.3"/><rect x="698.4" y="1316.8" width="10.3" height="1.6" fill="#8f1d76"/><rect x="714" y="1313.1" width="10.3" height="30"/><rect x="714" y="1313.1" width="10.3" height="1.6" fill="#8f1d76"/><rect x="729.5" y="1319.1" width="10.3" height="24"/><rect x="729.5" y="1319.1" width="10.3" height="1.6" fill="#8f1d76"/><rect x="745" y="1312.3" width="10.3" height="30.8"/><rect x="745" y="1312.3" width="10.3" height="1.6" fill="#8f1d76"/><rect x="760.5" y="1308.3" width="10.3" height="34.8"/><rect x="760.5" y="1308.3" width="10.3" height="1.6" fill="#8f1d76"/><rect x="776" y="1321" width="10.3" height="22.1"/><rect x="776" y="1321" width="10.3" height="1.6" fill="#8f1d76"/><rect x="791.5" y="1314.8" width="10.3" height="28.3"/><rect x="791.5" y="1314.8" width="10.3" height="1.6" fill="#8f1d76"/><rect x="807.1" y="1306" width="10.3" height="37.1"/><rect x="807.1" y="1306" width="10.3" height="1.6" fill="#8f1d76"/><rect x="822.6" y="1301.2" width="10.3" height="41.9"/><rect x="822.6" y="1301.2" width="10.3" height="1.6" fill="#8f1d76"/><rect x="838.1" y="1281.4" width="10.3" height="61.7"/><rect x="838.1" y="1281.4" width="10.3" height="1.6" fill="#8f1d76"/><rect x="853.6" y="1290.5" width="10.3" height="52.6"/><rect x="853.6" y="1290.5" width="10.3" height="1.6" fill="#8f1d76"/><rect x="869.1" y="1254.5" width="10.3" height="88.6"/><rect x="869.1" y="1254.5" width="10.3" height="1.6" fill="#8f1d76"/><rect x="884.7" y="1241.5" width="10.3" height="101.6"/><rect x="884.7" y="1241.5" width="10.3" height="1.6" fill="#8f1d76"/><rect x="900.2" y="1216" width="10.3" height="127.1"/><rect x="900.2" y="1216" width="10.3" height="1.6" fill="#8f1d76"/><rect x="915.7" y="1231.9" width="10.3" height="111.2"/><rect x="915.7" y="1231.9" width="10.3" height="1.6" fill="#8f1d76"/><rect x="931.2" y="1244.6" width="10.3" height="98.5"/><rect x="931.2" y="1244.6" width="10.3" height="1.6" fill="#8f1d76"/><rect x="946.7" y="1257.4" width="10.3" height="85.7"/><rect x="946.7" y="1257.4" width="10.3" height="1.6" fill="#8f1d76"/><rect x="962.2" y="1294.2" width="10.3" height="48.9"/><rect x="962.2" y="1294.2" width="10.3" height="1.6" fill="#8f1d76"/><rect x="977.8" y="1314" width="10.3" height="29.1"/><rect x="977.8" y="1314" width="10.3" height="1.6" fill="#8f1d76"/><rect x="232.9" y="1650" width="10.3" height="1.5" fill="#9a8a96"/><rect x="248.4" y="1602.8" width="10.3" height="48.7"/><rect x="248.4" y="1602.8" width="10.3" height="1.6" fill="#8f1d76"/><rect x="264" y="1466" width="10.3" height="185.5"/><rect x="264" y="1466" width="10.3" height="1.6" fill="#8f1d76"/><rect x="279.5" y="1362.2" width="10.3" height="289.3"/><rect x="279.5" y="1362.2" width="10.3" height="1.6" fill="#8f1d76"/><rect x="295" y="1379.2" width="10.3" height="272.3"/><rect x="295" y="1379.2" width="10.3" height="1.6" fill="#8f1d76"/><rect x="310.5" y="1457" width="10.3" height="194.5"/><rect x="310.5" y="1457" width="10.3" height="1.6" fill="#8f1d76"/><rect x="326" y="1521.2" width="10.3" height="130.3"/><rect x="326" y="1521.2" width="10.3" height="1.6" fill="#8f1d76"/><rect x="341.5" y="1556.1" width="10.3" height="95.4"/><rect x="341.5" y="1556.1" width="10.3" height="1.6" fill="#8f1d76"/><rect x="357.1" y="1584.9" width="10.3" height="66.6"/><rect x="357.1" y="1584.9" width="10.3" height="1.6" fill="#8f1d76"/><rect x="372.6" y="1611.8" width="10.3" height="39.7"/><rect x="372.6" y="1611.8" width="10.3" height="1.6" fill="#8f1d76"/><rect x="388.1" y="1625.1" width="10.3" height="26.4"/><rect x="388.1" y="1625.1" width="10.3" height="1.6" fill="#8f1d76"/><rect x="403.6" y="1647.2" width="10.3" height="4.3"/><rect x="403.6" y="1647.2" width="10.3" height="1.6" fill="#8f1d76"/><rect x="527.7" y="1650" width="10.3" height="1.5" fill="#9a8a96"/><rect x="543.3" y="1650" width="10.3" height="1.5" fill="#9a8a96"/><rect x="574.3" y="1650" width="10.3" height="1.5" fill="#9a8a96"/><rect x="651.9" y="1632" width="10.3" height="19.5"/><rect x="651.9" y="1632" width="10.3" height="1.6" fill="#8f1d76"/><rect x="667.4" y="1647.5" width="10.3" height="4"/><rect x="667.4" y="1647.5" width="10.3" height="1.6" fill="#8f1d76"/><rect x="682.9" y="1637.5" width="10.3" height="14"/><rect x="682.9" y="1637.5" width="10.3" height="1.6" fill="#8f1d76"/><rect x="745" y="1636.8" width="10.3" height="14.7"/><rect x="745" y="1636.8" width="10.3" height="1.6" fill="#8f1d76"/><rect x="760.5" y="1650" width="10.3" height="1.5" fill="#9a8a96"/><rect x="776" y="1637.6" width="10.3" height="13.9"/><rect x="776" y="1637.6" width="10.3" height="1.6" fill="#8f1d76"/><rect x="791.5" y="1625.8" width="10.3" height="25.7"/><rect x="791.5" y="1625.8" width="10.3" height="1.6" fill="#8f1d76"/><rect x="807.1" y="1616.4" width="10.3" height="35.1"/><rect x="807.1" y="1616.4" width="10.3" height="1.6" fill="#8f1d76"/><rect x="822.6" y="1595.2" width="10.3" height="56.3"/><rect x="822.6" y="1595.2" width="10.3" height="1.6" fill="#8f1d76"/><rect x="838.1" y="1583" width="10.3" height="68.5"/><rect x="838.1" y="1583" width="10.3" height="1.6" fill="#8f1d76"/><rect x="853.6" y="1570.3" width="10.3" height="81.2"/><rect x="853.6" y="1570.3" width="10.3" height="1.6" fill="#8f1d76"/><rect x="869.1" y="1577.6" width="10.3" height="73.9"/><rect x="869.1" y="1577.6" width="10.3" height="1.6" fill="#8f1d76"/><rect x="884.7" y="1568.9" width="10.3" height="82.6"/><rect x="884.7" y="1568.9" width="10.3" height="1.6" fill="#8f1d76"/><rect x="900.2" y="1556.1" width="10.3" height="95.4"/><rect x="900.2" y="1556.1" width="10.3" height="1.6" fill="#8f1d76"/><rect x="915.7" y="1577.6" width="10.3" height="73.9"/><rect x="915.7" y="1577.6" width="10.3" height="1.6" fill="#8f1d76"/><rect x="931.2" y="1587.6" width="10.3" height="63.9"/><rect x="931.2" y="1587.6" width="10.3" height="1.6" fill="#8f1d76"/><rect x="946.7" y="1588.7" width="10.3" height="62.8"/><rect x="946.7" y="1588.7" width="10.3" height="1.6" fill="#8f1d76"/><rect x="962.2" y="1618.7" width="10.3" height="32.8"/><rect x="962.2" y="1618.7" width="10.3" height="1.6" fill="#8f1d76"/><rect x="977.8" y="1624.9" width="10.3" height="26.6"/><rect x="977.8" y="1624.9" width="10.3" height="1.6" fill="#8f1d76"/><rect x="993.3" y="1637.6" width="10.3" height="13.9"/><rect x="993.3" y="1637.6" width="10.3" height="1.6" fill="#8f1d76"/><rect x="201.9" y="1893.2" width="10.3" height="6.5"/><rect x="201.9" y="1893.2" width="10.3" height="1.6" fill="#8f1d76"/><rect x="341.5" y="1887.6" width="10.3" height="12.1"/><rect x="341.5" y="1887.6" width="10.3" height="1.6" fill="#8f1d76"/><rect x="434.6" y="1893.2" width="10.3" height="6.5"/><rect x="434.6" y="1893.2" width="10.3" height="1.6" fill="#8f1d76"/><rect x="481.2" y="1895.5" width="10.3" height="4.2"/><rect x="481.2" y="1895.5" width="10.3" height="1.6" fill="#8f1d76"/><rect x="512.2" y="1894.1" width="10.3" height="5.6"/><rect x="512.2" y="1894.1" width="10.3" height="1.6" fill="#8f1d76"/><rect x="543.3" y="1870.6" width="10.3" height="29.1"/><rect x="543.3" y="1870.6" width="10.3" height="1.6" fill="#8f1d76"/><rect x="589.8" y="1872.6" width="10.3" height="27.1"/><rect x="589.8" y="1872.6" width="10.3" height="1.6" fill="#8f1d76"/><rect x="605.3" y="1838" width="10.3" height="61.7"/><rect x="605.3" y="1838" width="10.3" height="1.6" fill="#8f1d76"/><rect x="620.9" y="1880.5" width="10.3" height="19.2"/><rect x="620.9" y="1880.5" width="10.3" height="1.6" fill="#8f1d76"/><rect x="636.4" y="1880.5" width="10.3" height="19.2"/><rect x="636.4" y="1880.5" width="10.3" height="1.6" fill="#8f1d76"/><rect x="651.9" y="1883.3" width="10.3" height="16.4"/><rect x="651.9" y="1883.3" width="10.3" height="1.6" fill="#8f1d76"/><rect x="667.4" y="1866.9" width="10.3" height="32.8"/><rect x="667.4" y="1866.9" width="10.3" height="1.6" fill="#8f1d76"/><rect x="682.9" y="1855.6" width="10.3" height="44.1"/><rect x="682.9" y="1855.6" width="10.3" height="1.6" fill="#8f1d76"/><rect x="698.4" y="1879.1" width="10.3" height="20.6"/><rect x="698.4" y="1879.1" width="10.3" height="1.6" fill="#8f1d76"/><rect x="714" y="1830.4" width="10.3" height="69.3"/><rect x="714" y="1830.4" width="10.3" height="1.6" fill="#8f1d76"/><rect x="729.5" y="1829" width="10.3" height="70.7"/><rect x="729.5" y="1829" width="10.3" height="1.6" fill="#8f1d76"/><rect x="745" y="1678.1" width="10.3" height="221.6"/><rect x="745" y="1678.1" width="10.3" height="1.6" fill="#8f1d76"/><rect x="760.5" y="1696.2" width="10.3" height="203.5"/><rect x="760.5" y="1696.2" width="10.3" height="1.6" fill="#8f1d76"/><rect x="776" y="1708.3" width="10.3" height="191.4"/><rect x="776" y="1708.3" width="10.3" height="1.6" fill="#8f1d76"/><rect x="791.5" y="1705.9" width="10.3" height="193.8"/><rect x="791.5" y="1705.9" width="10.3" height="1.6" fill="#8f1d76"/><rect x="807.1" y="1757.5" width="10.3" height="142.2"/><rect x="807.1" y="1757.5" width="10.3" height="1.6" fill="#8f1d76"/><rect x="822.6" y="1785.9" width="10.3" height="113.8"/><rect x="822.6" y="1785.9" width="10.3" height="1.6" fill="#8f1d76"/><rect x="838.1" y="1842" width="10.3" height="57.7"/><rect x="838.1" y="1842" width="10.3" height="1.6" fill="#8f1d76"/><rect x="853.6" y="1884.3" width="10.3" height="15.4"/><rect x="853.6" y="1884.3" width="10.3" height="1.6" fill="#8f1d76"/><rect x="869.1" y="1880.4" width="10.3" height="19.3"/><rect x="869.1" y="1880.4" width="10.3" height="1.6" fill="#8f1d76"/><rect x="884.7" y="1869.2" width="10.3" height="30.5"/><rect x="884.7" y="1869.2" width="10.3" height="1.6" fill="#8f1d76"/><rect x="931.2" y="1898.2" width="10.3" height="1.5" fill="#9a8a96"/></g>
<g><text x="162.6" y="1456.4" font-size="30.2" fill="#201820" stroke="#201820" stroke-width="0.5" textLength="62.6" lengthAdjust="spacingAndGlyphs" opacity="0.92">New</text><text x="239.4" y="1456.4" font-size="30.2" fill="#201820" stroke="#201820" stroke-width="0.5" textLength="63.7" lengthAdjust="spacingAndGlyphs" opacity="0.92">York</text><text x="314.5" y="1456.6" font-size="28.6" fill="#cc9dba" textLength="138.2" lengthAdjust="spacingAndGlyphs">(excluding</text><text x="460.7" y="1456.6" font-size="28.6" fill="#cc9dba" textLength="57.9" lengthAdjust="spacingAndGlyphs">New</text><text x="533.1" y="1456.6" font-size="28.6" fill="#cc9dba" textLength="54.4" lengthAdjust="spacingAndGlyphs">York</text><text x="597.7" y="1456.6" font-size="28.6" fill="#cc9dba" textLength="60.8" lengthAdjust="spacingAndGlyphs">City)</text></g>
<g><text x="146.2" y="136" font-size="24.2" fill="#666666" text-anchor="end" textLength="62.4" lengthAdjust="spacingAndGlyphs">100%</text><text x="146.8" y="240.4" font-size="24.2" fill="#666666" text-anchor="end" textLength="31" lengthAdjust="spacingAndGlyphs">50</text><text x="22.2" y="633.5" font-size="14.5" fill="#808080" textLength="30.8" lengthAdjust="spacingAndGlyphs">20%</text><text x="82.1" y="50.5" font-size="36.5" fill="#1c1c1c" stroke="#1c1c1c" stroke-width="0.9" textLength="119.7" lengthAdjust="spacingAndGlyphs">Excess</text><text x="215.8" y="50.5" font-size="36.5" fill="#1c1c1c" stroke="#1c1c1c" stroke-width="0.9" textLength="122.4" lengthAdjust="spacingAndGlyphs">deaths</text><text x="351.4" y="50.5" font-size="36.5" fill="#1c1c1c" stroke="#1c1c1c" stroke-width="0.9" textLength="38.9" lengthAdjust="spacingAndGlyphs">by</text><text x="406.6" y="50.5" font-size="36.5" fill="#1c1c1c" stroke="#1c1c1c" stroke-width="0.9" textLength="90.9" lengthAdjust="spacingAndGlyphs">week</text><text x="82.8" y="85" font-size="24.8" fill="#3a3a3a" textLength="29.1" lengthAdjust="spacingAndGlyphs">As</text><text x="119.5" y="85" font-size="24.8" fill="#3a3a3a" textLength="137.7" lengthAdjust="spacingAndGlyphs">percentage</text><text x="265.4" y="85" font-size="24.8" fill="#3a3a3a" textLength="104.1" lengthAdjust="spacingAndGlyphs">increase</text><text x="379.7" y="85" font-size="24.8" fill="#3a3a3a" textLength="51.8" lengthAdjust="spacingAndGlyphs">over</text><text x="438.8" y="85" font-size="24.8" fill="#3a3a3a" textLength="96.5" lengthAdjust="spacingAndGlyphs">average</text><text x="544.7" y="85" font-size="24.8" fill="#3a3a3a" textLength="104.9" lengthAdjust="spacingAndGlyphs">expected</text><text x="657.4" y="85" font-size="24.8" fill="#3a3a3a" textLength="83" lengthAdjust="spacingAndGlyphs">count.</text><text x="801.8" y="84.4" font-size="21.8" fill="#aaaaaa" textLength="84.7" lengthAdjust="spacingAndGlyphs">RECENT</text><text x="896.8" y="84.4" font-size="21.8" fill="#aaaaaa" textLength="78.1" lengthAdjust="spacingAndGlyphs">WEEKS</text><text x="981.2" y="84.4" font-size="21.8" fill="#aaaaaa" textLength="55" lengthAdjust="spacingAndGlyphs">HAVE</text><text x="838.3" y="107.7" font-size="21.8" fill="#aaaaaa" textLength="141.5" lengthAdjust="spacingAndGlyphs">INCOMPLETE</text><text x="988.2" y="107.7" font-size="21.8" fill="#aaaaaa" textLength="47.2" lengthAdjust="spacingAndGlyphs">DATA</text><text x="152.3" y="1930.1" font-size="24.8" fill="#3a3a3a" textLength="51" lengthAdjust="spacingAndGlyphs">Feb.</text><text x="211.9" y="1930.1" font-size="24.8" fill="#3a3a3a" textLength="44.8" lengthAdjust="spacingAndGlyphs">15,</text><text x="261.2" y="1930.1" font-size="24.8" fill="#3a3a3a" textLength="68" lengthAdjust="spacingAndGlyphs">2020</text><text x="832.9" y="1930.4" font-size="24.8" fill="#3a3a3a" textLength="77.1" lengthAdjust="spacingAndGlyphs">March</text><text x="917.9" y="1930.4" font-size="24.8" fill="#3a3a3a" textLength="44.8" lengthAdjust="spacingAndGlyphs">13,</text><text x="968.5" y="1930.4" font-size="24.8" fill="#3a3a3a" textLength="66.1" lengthAdjust="spacingAndGlyphs">2021</text><text x="82.2" y="1971.5" font-size="23.6" fill="#858585" textLength="88" lengthAdjust="spacingAndGlyphs">Source:</text><text x="177.6" y="1971.5" font-size="23.6" fill="#858585" textLength="49.9" lengthAdjust="spacingAndGlyphs">CDC</text><text x="799.2" y="1971.5" font-size="21" fill="#909090" textLength="37.2" lengthAdjust="spacingAndGlyphs">THE</text><text x="841.6" y="1971.5" font-size="21" fill="#909090" textLength="138.9" lengthAdjust="spacingAndGlyphs">WASHINGTON</text><text x="984.5" y="1971.5" font-size="21" fill="#909090" textLength="54.2" lengthAdjust="spacingAndGlyphs">POST</text></g>
</svg>
</body>
</html>
